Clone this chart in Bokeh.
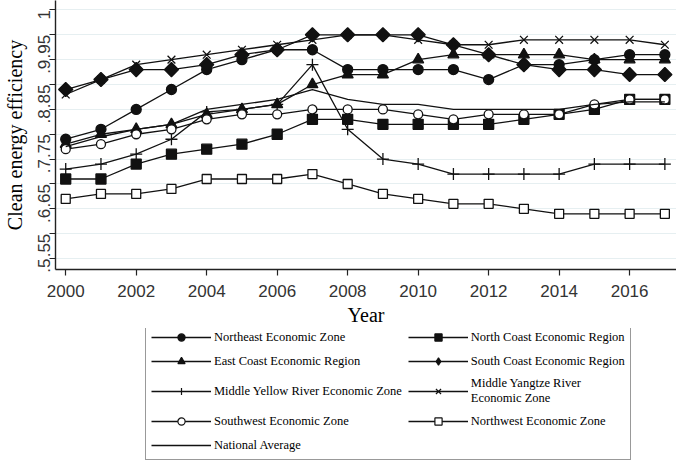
import math
from bokeh.plotting import figure
from bokeh.layouts import column
from bokeh.models import Legend, LegendItem, FixedTicker, Range1d
from bokeh.embed import file_html
from bokeh.resources import INLINE

years = list(range(2000, 2018))
northeast = [0.74, 0.76, 0.80, 0.84, 0.88, 0.90, 0.92, 0.92, 0.88, 0.88, 0.88, 0.88, 0.86, 0.89, 0.89, 0.90, 0.91, 0.91]
north_coast = [0.66, 0.66, 0.69, 0.71, 0.72, 0.73, 0.75, 0.78, 0.78, 0.77, 0.77, 0.77, 0.77, 0.78, 0.79, 0.80, 0.82, 0.82]
east_coast = [0.73, 0.75, 0.76, 0.77, 0.79, 0.80, 0.81, 0.85, 0.87, 0.87, 0.90, 0.91, 0.91, 0.91, 0.91, 0.90, 0.90, 0.90]
south_coast = [0.84, 0.86, 0.88, 0.88, 0.89, 0.91, 0.92, 0.95, 0.95, 0.95, 0.95, 0.93, 0.91, 0.89, 0.88, 0.88, 0.87, 0.87]
middle_yellow = [0.68, 0.69, 0.71, 0.74, 0.795, 0.80, 0.81, 0.89, 0.76, 0.70, 0.69, 0.67, 0.67, 0.67, 0.67, 0.69, 0.69, 0.69]
middle_yangtze = [0.83, 0.86, 0.89, 0.90, 0.91, 0.92, 0.93, 0.94, 0.95, 0.95, 0.94, 0.93, 0.93, 0.94, 0.94, 0.94, 0.94, 0.93]
southwest = [0.72, 0.73, 0.75, 0.76, 0.78, 0.79, 0.79, 0.80, 0.80, 0.80, 0.79, 0.78, 0.79, 0.79, 0.79, 0.81, 0.82, 0.82]
northwest = [0.62, 0.63, 0.63, 0.64, 0.66, 0.66, 0.66, 0.67, 0.65, 0.63, 0.62, 0.61, 0.61, 0.60, 0.59, 0.59, 0.59, 0.59]
national = [0.725, 0.745, 0.76, 0.77, 0.80, 0.81, 0.82, 0.84, 0.82, 0.81, 0.81, 0.80, 0.80, 0.80, 0.80, 0.81, 0.815, 0.815]

x_ticks = [2000, 2002, 2004, 2006, 2008, 2010, 2012, 2014, 2016]
y_ticks = [0.5, 0.55, 0.6, 0.65, 0.7, 0.75, 0.8, 0.85, 0.9, 0.95, 1.0]
y_tick_labels = [".5", ".55", ".6", ".65", ".7", ".75", ".8", ".85", ".9", ".95", "1"]

# (label, values, main marker, size, fill, angle, legend marker)
series_spec = [
    ("Northeast Economic Zone", northeast, "circle", 10, "#111111", 0.0, "circle"),
    ("North Coast Economic Region", north_coast, "square", 10, "#111111", 0.0, "square"),
    ("East Coast Economic Region", east_coast, "triangle", 11, "#111111", 0.0, "triangle"),
    ("South Coast Economic Region", south_coast, "square", 10, "#111111", math.pi / 4, "diamond"),
    ("Middle Yellow River Economic Zone", middle_yellow, "cross", 12, None, 0.0, "cross"),
    ("Middle Yangtze River\nEconomic Zone", middle_yangtze, "x", 11, None, 0.0, "x"),
    ("Southwest Economic Zone", southwest, "circle", 9, "white", 0.0, "circle"),
    ("Northwest Economic Zone", northwest, "square", 9, "white", 0.0, "square"),
    ("National Average", national, None, 0, None, 0.0, None),
]

LC = "#111111"
LW = 1.3

p = figure(width=676, height=328, output_backend="svg", toolbar_location=None,
           x_range=Range1d(1999.71, 2017.33), y_range=Range1d(0.478, 1.019),
           min_border_top=0, min_border_right=0, min_border_left=0, min_border_bottom=0)
p.outline_line_color = None
p.background_fill_color = "white"
p.border_fill_color = "white"

p.xgrid.grid_line_color = None
p.ygrid.grid_line_color = "#e6eff1"
p.ygrid.grid_line_width = 1
p.ygrid.ticker = FixedTicker(ticks=y_ticks)

p.xaxis.ticker = FixedTicker(ticks=x_ticks)
p.yaxis.ticker = FixedTicker(ticks=y_ticks)
p.yaxis.major_label_overrides = {t: l for t, l in zip(y_ticks, y_tick_labels)}
p.yaxis.major_label_orientation = math.pi / 2
for ax in (p.xaxis, p.yaxis):
    ax.axis_line_color = "#222222"
    ax.axis_line_width = 1.4
    ax.major_tick_line_color = "#222222"
    ax.major_tick_line_width = 1.2
    ax.major_tick_out = 6
    ax.major_tick_in = 0
    ax.minor_tick_line_color = None
    ax.major_label_text_font = "Liberation Sans"
    ax.major_label_text_font_size = "17px"
    ax.major_label_text_color = "#333333"
    ax.axis_label_text_font = "Liberation Serif"
    ax.axis_label_text_font_size = "20px"
    ax.axis_label_text_font_style = "normal"
    ax.axis_label_text_color = "#000000"
p.xaxis.axis_label = "Year"
p.yaxis.axis_label = "Clean energy efficiency"
p.xaxis.axis_label_standoff = 4
p.yaxis.axis_label_standoff = 4
p.xaxis.major_label_standoff = 9
p.yaxis.major_label_standoff = 5

for label, vals, marker, size, fill, angle, _lm in series_spec:
    p.line(years, vals, line_color=LC, line_width=LW)
    if marker is not None:
        p.scatter(years, vals, marker=marker, size=size, angle=angle,
                  line_color=LC, line_width=1.3, fill_color=fill)

# legend panel: its own figure; its renderers are hidden, only used for legend samples
q = figure(width=676, height=132, output_backend="svg", toolbar_location=None,
           x_axis_type=None, y_axis_type=None, x_range=Range1d(0, 1), y_range=Range1d(0, 1),
           min_border_top=0, min_border_right=0, min_border_left=0, min_border_bottom=0)
q.outline_line_color = None
q.grid.grid_line_color = None
q.background_fill_color = "white"
q.border_fill_color = "white"

order = [0, 2, 4, 6, 8, 1, 3, 5, 7]  # column-major: left column, then right column
items = []
for i in order:
    label, vals, marker, size, fill, angle, lmarker = series_spec[i]
    rs = [q.line(years, vals, line_color=LC, line_width=LW, visible=False)]
    if lmarker is not None:
        rs.append(q.scatter(years, vals, marker=lmarker, line_color=LC, line_width=1.2,
                            fill_color=fill, visible=False))
    items.append(LegendItem(label=label, renderers=rs))

legend = Legend(items=items, ncols=2, orientation="vertical", location=(90, 0),
                glyph_width=60, glyph_height=18, label_standoff=3,
                label_text_font="Liberation Serif", label_text_font_size="12.5px",
                label_text_color="#000000", label_height=18, label_text_line_height=1.0,
                spacing=6, padding=5, margin=0,
                border_line_color="#333333", border_line_width=1,
                background_fill_color="white", background_fill_alpha=1.0,
                inactive_fill_alpha=0.0)
q.add_layout(legend, "center")

layout = column(p, q, spacing=0)
open("out.html", "w").write(file_html(layout, INLINE))
